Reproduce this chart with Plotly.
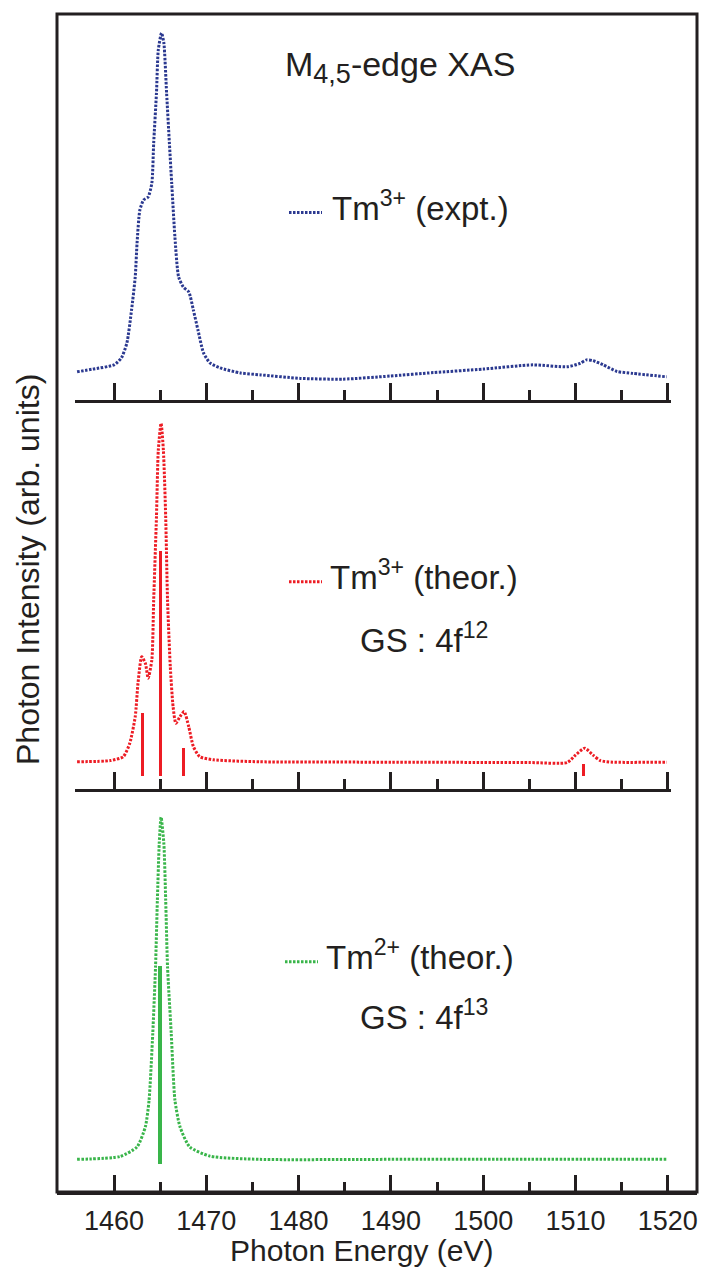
import plotly.graph_objects as go

# ---- Tm3+ experimental spectrum (eV, arb. units) ----
expt_energy = [1456.0, 1457.7, 1460.0, 1460.8, 1461.4, 1461.9, 1462.3, 1462.5, 1462.8,
               1463.2, 1463.7, 1464.1, 1464.3, 1464.6, 1464.8, 1465.15, 1465.4, 1465.7,
               1466.0, 1466.25, 1466.6, 1467.0, 1467.5, 1468.1, 1468.6, 1469.1, 1469.7,
               1470.4, 1471.5, 1473.7, 1475.9, 1480.2, 1484.8, 1489.9, 1494.6, 1500.0,
               1505.4, 1509.1, 1510.5, 1511.2, 1511.9, 1513.0, 1514.5, 1516.2, 1519.9]
expt_intensity = [7.3, 8.0, 9.1, 10.9, 14.8, 23.3, 31.9, 40.7, 49.2,
                  51.8, 52.6, 56.2, 66.6, 79.5, 90.7, 95.1, 92.5, 79.5,
                  66.6, 56.2, 42.2, 31.9, 29.3, 28.0, 23.3, 18.1, 12.2,
                  9.6, 8.3, 7.0, 6.5, 5.6, 5.4, 6.2, 7.1, 8.0,
                  9.1, 8.6, 9.5, 10.4, 10.2, 9.1, 7.4, 6.9, 6.0]

# ---- Tm3+ calculated spectrum, GS 4f12 ----
tm3_energy = [1456.0, 1459.6, 1461.0, 1461.7, 1462.3, 1462.6, 1463.0, 1463.4, 1463.7,
              1464.1, 1464.3, 1464.6, 1464.8, 1465.1, 1465.35, 1465.6, 1465.8, 1466.1,
              1466.4, 1466.7, 1467.15, 1467.6, 1468.1, 1468.6, 1469.3, 1470.8, 1475.8,
              1490.0, 1505.0, 1509.1, 1510.0, 1511.0, 1511.9, 1512.7, 1514.0, 1519.9]
tm3_intensity = [7.0, 7.3, 8.3, 11.7, 18.6, 27.2, 34.0, 32.3, 28.5,
                 33.2, 48.6, 70.0, 87.1, 94.0, 87.1, 70.0, 48.6, 31.4,
                 21.2, 16.9, 18.6, 19.9, 16.0, 10.9, 8.3, 7.5, 7.0,
                 6.9, 6.8, 6.8, 8.7, 10.5, 8.7, 7.3, 6.9, 6.9]
tm3_stick_energy = [1463.07, 1465.06, 1467.55, 1510.85]
tm3_stick_top = [19.6, 61.3, 10.6, 6.4]
tm3_stick_base = 3.3

# ---- Tm2+ calculated spectrum, GS 4f13 ----
tm2_energy = [1456.0, 1460.65, 1462.5, 1463.4, 1463.8, 1464.2, 1464.5, 1464.7, 1464.9,
              1465.1, 1465.4, 1465.6, 1465.8, 1466.2, 1466.6, 1467.15, 1468.2, 1470.4,
              1475.8, 1490.0, 1505.0, 1519.9]
tm2_intensity = [8.1, 8.8, 11.2, 16.2, 22.8, 39.4, 55.9, 72.5, 86.5,
                 93.0, 86.5, 72.5, 55.9, 39.4, 22.8, 16.2, 11.2, 8.9,
                 8.1, 8.1, 8.1, 8.1]
tm2_stick_energy = [1465.0]
tm2_stick_top = [56.2]
tm2_stick_base = 6.9

major_ticks = [1460, 1470, 1480, 1490, 1500, 1510, 1520]
major_labels = ["1460", "1470", "1480", "1490", "1500", "1510", "1520"]
minor_ticks = [1465, 1475, 1485, 1495, 1505, 1515]

INK = "#231f20"
BLUE = "#2b3990"
RED = "#ed1c24"
GREEN = "#39b54a"
FONT = "Liberation Sans, Arial, Helvetica, sans-serif"
DOTS = "2.5px,1.5px"
LW = 3

W, H = 702, 1271
L, R, T, B = 57, 697, 14, 1192


def fx(p):
    return (p - L) / (R - L)


def fy(p):
    return (B - p) / (B - T)


def spectrum(x, y, color, xa, ya):
    return go.Scatter(x=x, y=y, xaxis=xa, yaxis=ya, mode="lines",
                      line=dict(color=color, width=LW, dash=DOTS, shape="spline", smoothing=0.6),
                      showlegend=False, hoverinfo="x+y")


def sticks(x, tops, base, color, xa, ya):
    return go.Bar(x=x, y=[t - base for t in tops], base=base, width=0.38,
                  xaxis=xa, yaxis=ya, marker=dict(color=color, line=dict(width=0)),
                  showlegend=False)


fig = go.Figure()
fig.add_trace(spectrum(expt_energy, expt_intensity, BLUE, "x2", "y2"))
fig.add_trace(sticks(tm3_stick_energy, tm3_stick_top, tm3_stick_base, RED, "x3", "y3"))
fig.add_trace(spectrum(tm3_energy, tm3_intensity, RED, "x3", "y3"))
fig.add_trace(sticks(tm2_stick_energy, tm2_stick_top, tm2_stick_base, GREEN, "x", "y"))
fig.add_trace(spectrum(tm2_energy, tm2_intensity, GREEN, "x", "y"))

px_per_ev = 9.23
full_range = [1460 + (L - 114) / px_per_ev, 1460 + (R - 114) / px_per_ev]
inner_l, inner_r = 75, 671
inner_range = [1460 + (inner_l - 114) / px_per_ev, 1460 + (inner_r - 114) / px_per_ev]

tick_common = dict(showline=True, linewidth=3, linecolor=INK, ticks="inside",
                   ticklen=17, tickwidth=3, tickcolor=INK, tickmode="array",
                   tickvals=major_ticks, showgrid=False, zeroline=False,
                   minor=dict(tickmode="array", tickvals=minor_ticks, ticks="inside",
                              ticklen=10, tickwidth=3, tickcolor=INK, showgrid=False))

yd1 = fy(789)
yd2 = fy(400)

fig.update_layout(
    width=W, height=H,
    margin=dict(l=L, r=W - R, t=T, b=H - B),
    paper_bgcolor="white", plot_bgcolor="white",
    font=dict(family=FONT, color=INK),
    showlegend=False,
    bargap=0,
    xaxis=dict(domain=[0, 1], range=full_range, anchor="y", ticktext=major_labels,
               showticklabels=True, tickfont=dict(size=27, family=FONT, color=INK),
               ticklabelstandoff=3, **tick_common),
    xaxis2=dict(domain=[fx(inner_l), fx(inner_r)], range=inner_range, anchor="y2",
                showticklabels=False, **tick_common),
    xaxis3=dict(domain=[fx(inner_l), fx(inner_r)], range=inner_range, anchor="y3",
                showticklabels=False, **tick_common),
    yaxis=dict(domain=[0, yd1], range=[0, 100], visible=False),
    yaxis3=dict(domain=[yd1, yd2], range=[0, 100], visible=False),
    yaxis2=dict(domain=[yd2, 1], range=[0, 100], visible=False),
)

# outer frame
fig.add_shape(type="rect", xref="paper", yref="paper", x0=0, x1=1, y0=0, y1=1,
              line=dict(color=INK, width=3), layer="above")

# legend samples
for x0, y_px, col in [(289, 212.5, BLUE), (289, 581.7, RED), (285, 961.7, GREEN)]:
    fig.add_shape(type="line", xref="paper", yref="paper",
                  x0=fx(x0), x1=fx(x0 + 33), y0=fy(y_px), y1=fy(y_px),
                  line=dict(color=col, width=LW, dash=DOTS))

TXT = dict(family=FONT, size=33, color=INK)
ann = [
    dict(text='M<sub><span style="font-size:27px">4,5</span></sub>-edge XAS',
         x=fx(283), y=fy(67), xanchor="left", yanchor="middle",
         font=dict(family=FONT, size=34, color=INK)),
    dict(text="Tm<sup>3+</sup> (expt.)", x=fx(330), y=fy(206), xanchor="left", yanchor="middle"),
    dict(text="Tm<sup>3+</sup> (theor.)", x=fx(328), y=fy(575), xanchor="left", yanchor="middle"),
    dict(text="GS : 4f<sup>12</sup>", x=fx(358), y=fy(638), xanchor="left", yanchor="middle"),
    dict(text="Tm<sup>2+</sup> (theor.)", x=fx(324), y=fy(955), xanchor="left", yanchor="middle"),
    dict(text="GS : 4f<sup>13</sup>", x=fx(358), y=fy(1015), xanchor="left", yanchor="middle"),
    dict(text="Photon Energy (eV)", x=fx(361), y=fy(1250), xanchor="center", yanchor="middle",
         font=dict(family=FONT, size=30, color=INK)),
    dict(text="Photon Intensity (arb. units)", x=fx(28), y=fy(570), xanchor="center",
         yanchor="middle", textangle=-90, font=dict(family=FONT, size=32, color=INK)),
]
for a in ann:
    a.setdefault("font", TXT)
    a.update(xref="paper", yref="paper", showarrow=False)
    fig.add_annotation(**a)

fig.write_html("out.html")
